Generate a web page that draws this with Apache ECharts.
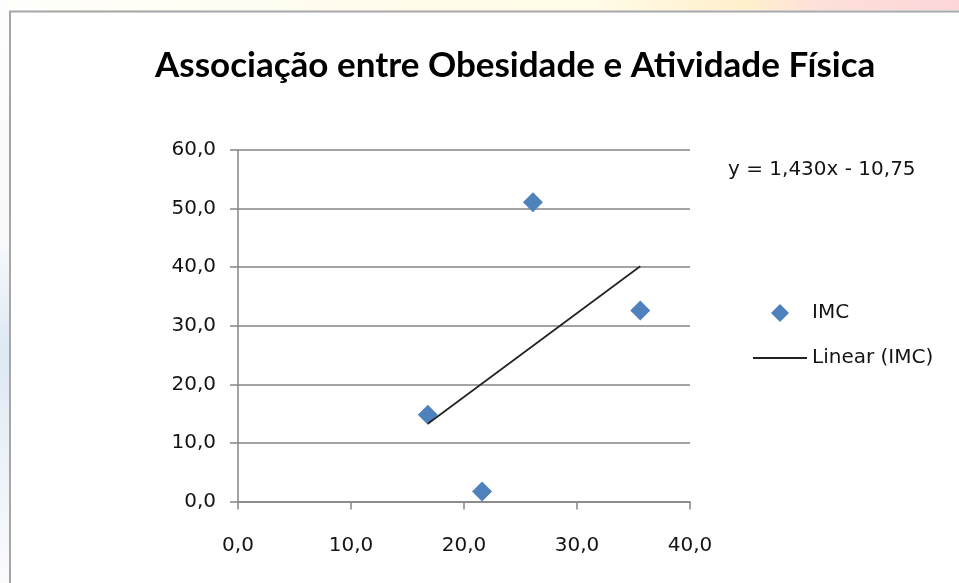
<!DOCTYPE html>
<html>
<head>
<meta charset="utf-8">
<script src="https://cdn.jsdelivr.net/npm/echarts@6/dist/echarts.min.js"></script>
<style>
  html, body { margin: 0; padding: 0; background: #ffffff; }
  #chart { width: 959px; height: 583px; }
</style>
</head>
<body>
<div id="chart"></div>
<script>
// Physical activity (x) against BMI (IMC) for each sample
const activityValues = [16.8, 21.6, 26.1, 35.6];
const imcValues = [14.8, 1.7, 51.1, 32.6];

// Linear trend reported on the chart
const trendSlope = 1.430;
const trendIntercept = -10.75;

const xTicks = [0, 10, 20, 30, 40];
const yTicks = [0, 10, 20, 30, 40, 50, 60];

const titleText = 'Associação entre Obesidade e Atividade Física';
const seriesName = 'IMC';
const trendName = 'Linear (IMC)';

const fmtComma = (v, d) => v.toFixed(d).replace('.', ',');
const equationText = 'y = ' + fmtComma(trendSlope, 3) + 'x - ' + fmtComma(Math.abs(trendIntercept), 2);

const points = activityValues.map((x, i) => [x, imcValues[i]]);
const xMin = Math.min(...activityValues);
const xMax = Math.max(...activityValues);
const trendPoints = [xMin, xMax].map(x => [x, trendSlope * x + trendIntercept]);

const labelFont = 'DejaVu Sans';
const labelSize = 20;
const textColor = '#141414';
const gridColor = '#858585';

const chart = echarts.init(document.getElementById('chart'), null, { renderer: 'canvas' });

chart.setOption({
  backgroundColor: '#ffffff',
  animation: false,
  graphic: [
    // slide backdrop strip above the chart frame
    {
      type: 'rect', z: -10, silent: true,
      shape: { x: 0, y: 0, width: 959, height: 10 },
      style: {
        fill: new echarts.graphic.LinearGradient(0, 0, 1, 0, [
          { offset: 0, color: '#fefefb' },
          { offset: 0.45, color: '#fffbea' },
          { offset: 0.62, color: '#fffbe6' },
          { offset: 0.78, color: '#ffefcc' },
          { offset: 0.85, color: '#fde0da' },
          { offset: 1, color: '#fcd6d8' }
        ])
      }
    },
    // slide backdrop strip left of the chart frame
    {
      type: 'rect', z: -10, silent: true,
      shape: { x: 0, y: 0, width: 9, height: 583 },
      style: {
        fill: new echarts.graphic.LinearGradient(0, 0, 0, 1, [
          { offset: 0, color: '#fdfdfd' },
          { offset: 0.42, color: '#f7f9fb' },
          { offset: 0.6, color: '#dde8f3' },
          { offset: 0.8, color: '#edf2f8' },
          { offset: 1, color: '#fafbfd' }
        ])
      }
    },
    // chart frame
    {
      type: 'rect', z: -5, silent: true,
      shape: { x: 10, y: 11.5, width: 960, height: 580 },
      style: { fill: '#ffffff', stroke: '#a6a6a6', lineWidth: 2 }
    },
    // trendline equation
    {
      type: 'text', silent: true,
      left: 728, top: 160,
      style: {
        text: equationText,
        font: labelSize + 'px "' + labelFont + '"',
        fill: textColor
      }
    }
  ],
  title: {
    text: titleText,
    left: 155,
    top: 48,
    padding: 0,
    textStyle: {
      fontFamily: 'Lato',
      fontWeight: 'bold',
      fontSize: 35,
      color: '#000000'
    }
  },
  legend: [
    {
      data: [{ name: seriesName, icon: 'diamond' }],
      orient: 'vertical',
      left: 771, top: 303,
      padding: 0,
      itemWidth: 18, itemHeight: 18, itemGap: 0,
      textStyle: { fontFamily: labelFont, fontSize: labelSize, color: textColor, padding: [0, 0, 0, 18] },
      selectedMode: false
    },
    {
      data: [{ name: trendName, icon: 'rect' }],
      orient: 'vertical',
      left: 753, top: 348,
      padding: 0,
      itemWidth: 54, itemHeight: 2, itemGap: 0,
      textStyle: { fontFamily: labelFont, fontSize: labelSize, color: textColor },
      selectedMode: false
    }
  ],
  grid: {
    left: 238, right: 269, top: 150, bottom: 81.5,
    containLabel: false
  },
  xAxis: {
    type: 'value',
    min: xTicks[0], max: xTicks[xTicks.length - 1], interval: xTicks[1] - xTicks[0],
    axisLine: { show: true, lineStyle: { color: gridColor, width: 1.5 } },
    axisTick: { show: true, length: 8, lineStyle: { color: gridColor, width: 1.5 } },
    splitLine: { show: false },
    axisLabel: {
      margin: 34,
      fontFamily: labelFont, fontSize: labelSize, color: textColor,
      formatter: v => fmtComma(v, 1)
    }
  },
  yAxis: {
    type: 'value',
    min: yTicks[0], max: yTicks[yTicks.length - 1], interval: yTicks[1] - yTicks[0],
    axisLine: { show: true, lineStyle: { color: gridColor, width: 1.5 } },
    axisTick: { show: true, length: 8, lineStyle: { color: gridColor, width: 1.5 } },
    splitLine: { show: true, lineStyle: { color: gridColor, width: 1.5 } },
    axisLabel: {
      margin: 22,
      fontFamily: labelFont, fontSize: labelSize, color: textColor,
      formatter: v => fmtComma(v, 1)
    }
  },
  series: [
    {
      name: seriesName,
      type: 'scatter',
      data: points,
      symbol: 'diamond',
      symbolSize: 20,
      itemStyle: { color: '#4f81bd', opacity: 1 },
      z: 2
    },
    {
      name: trendName,
      type: 'line',
      data: trendPoints,
      showSymbol: false,
      symbol: 'none',
      lineStyle: { color: '#222222', width: 1.7 },
      itemStyle: { color: '#222222' },
      z: 3
    }
  ]
});
</script>
</body>
</html>
